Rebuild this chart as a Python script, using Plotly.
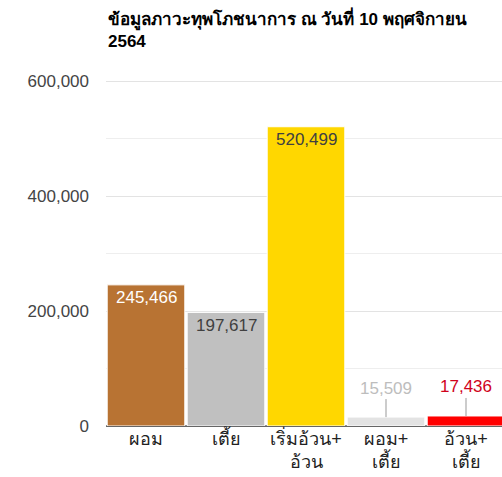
import plotly.graph_objects as go

categories = ["ผอม", "เตี้ย", "เริ่มอ้วน+<br>อ้วน", "ผอม+<br>เตี้ย", "อ้วน+<br>เตี้ย"]
values = [245466, 197617, 520499, 15509, 17436]
bar_colors = ["#B87333", "#C0C0C0", "#FFD700", "#E3E3E3", "#FF0000"]
label_colors = ["#FFFFFF", "#404040", "#404040", "#BDBDBD", "#D0021B"]
label_inside = [True, True, True, False, False]
title_text = "ข้อมูลภาวะทุพโภชนาการ ณ วันที่ 10 พฤศจิกายน<br>2564"
tick_vals = [0, 200000, 400000, 600000]
tick_text = ["0", "200,000", "400,000", "600,000"]

FONT = "Liberation Sans, Arial, sans-serif"

fig = go.Figure(go.Bar(
    x=list(range(len(categories))), y=values,
    marker=dict(color=bar_colors, line=dict(color="white", width=1)),
    hoverinfo="skip",
))

for i, (v, c, inside) in enumerate(zip(values, label_colors, label_inside)):
    txt = f"{v:,}"
    if inside:
        fig.add_annotation(x=i, y=v, text=txt, showarrow=False, yanchor="middle",
                           yshift=-13, font=dict(size=17, color=c, family=FONT))
    else:
        fig.add_annotation(x=i, y=v, text=txt, showarrow=True, arrowhead=0,
                           arrowwidth=1, arrowcolor="#999999", ax=0, ay=-29,
                           font=dict(size=17, color=c, family=FONT))

# chart title (drawn as a paper annotation so it sits exactly above the plot)
fig.add_annotation(x=0, xref="paper", xanchor="left", y=1, yref="paper",
                   yanchor="middle", yshift=51, align="left", showarrow=False,
                   text="<b>" + title_text + "</b>",
                   font=dict(size=17, color="#000000", family=FONT))

fig.update_layout(
    width=502, height=477,
    margin=dict(l=106, r=0, t=80, b=51),
    paper_bgcolor="white", plot_bgcolor="white",
    showlegend=False,
    bargap=0.03,
    font=dict(family=FONT, size=17, color="#444444"),
    xaxis=dict(range=[-0.5, 4.45], tickmode="array", tickvals=list(range(len(categories))),
               ticktext=categories, showgrid=False, showline=False, ticks="",
               tickfont=dict(size=18, color="#222222")),
    yaxis=dict(range=[0, 601800], tickvals=tick_vals, ticktext=tick_text,
               showgrid=True, gridcolor="#E3E3E3", gridwidth=1,
               minor=dict(dtick=100000, showgrid=True, gridcolor="#EEEEEE"),
               zeroline=True, zerolinecolor="#666666", zerolinewidth=1.5,
               ticks="", ticklabelstandoff=16,
               tickfont=dict(size=17, color="#444444")),
)
fig.write_html("out.html", config={"displayModeBar": False},
               post_script="document.body.style.margin='0';")
